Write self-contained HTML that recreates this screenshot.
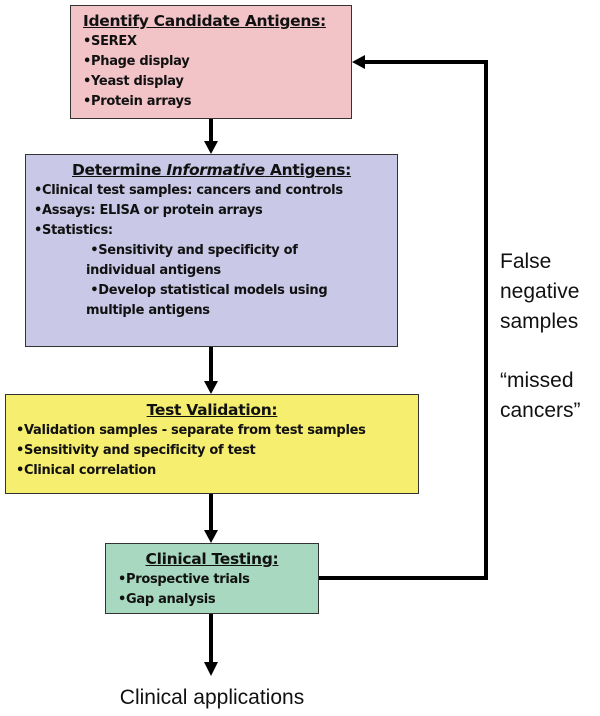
<!DOCTYPE html>
<html><head><style>
body{margin:0;width:600px;height:716px;background:#fff;position:relative;font-family:"DejaVu Sans","Liberation Sans",sans-serif;overflow:hidden}
.b{position:absolute;border:1.5px solid #333;box-sizing:border-box;font-weight:bold;font-size:13px;line-height:20px;color:#111;letter-spacing:-0.3px}
.t{font-size:15.5px;text-decoration:underline;line-height:22px}
.r{position:absolute;font-family:"Liberation Sans",sans-serif;font-size:21px;color:#111;line-height:30px}
</style></head><body>
<svg width="600" height="716" style="position:absolute;left:0;top:0">
<g stroke="#000" stroke-width="4" fill="none">
<line x1="211" y1="119" x2="211" y2="142"/>
<line x1="211" y1="347" x2="211" y2="382"/>
<line x1="211" y1="494" x2="211" y2="531"/>
<line x1="211" y1="614" x2="211" y2="663"/>
<polyline points="319,578 486,578 486,62 364,62"/>
</g>
<g fill="#000">
<polygon points="204,141 218,141 211,154"/>
<polygon points="204,381 218,381 211,394"/>
<polygon points="204,530 218,530 211,543"/>
<polygon points="204,662 218,662 211,676"/>
<polygon points="365,55 365,69 352,62"/>
</g>
</svg>
<div class="b" style="left:70px;top:5px;width:282px;height:114px;background:#f2c4c8;padding:4px 0 0 12px">
<div class="t">Identify Candidate Antigens:</div>
•SEREX<br>•Phage display<br>•Yeast display<br>•Protein arrays</div>
<div class="b" style="left:25px;top:154px;width:373px;height:193px;background:#c9c8e6;padding:4px 0 0 8px">
<div class="t" style="text-align:center;padding-right:8px">Determine <i>Informative</i> Antigens:</div>
•Clinical test samples: cancers and controls<br>•Assays: ELISA or protein arrays<br>•Statistics:
<div style="padding-left:52px">&nbsp;•Sensitivity and specificity of<br>individual antigens<br>&nbsp;•Develop statistical models using<br>multiple antigens</div></div>
<div class="b" style="left:5px;top:394px;width:414px;height:100px;background:#f6ee6e;padding:4px 0 0 10px">
<div class="t" style="text-align:center;padding-right:10px">Test Validation:</div>
•Validation samples - separate from test samples<br>•Sensitivity and specificity of test<br>•Clinical correlation</div>
<div class="b" style="left:105px;top:543px;width:214px;height:71px;background:#a8d8bf;padding:4px 0 0 12px">
<div class="t" style="text-align:center;padding-right:12px">Clinical Testing:</div>
•Prospective trials<br>•Gap analysis</div>
<div class="r" style="left:500px;top:247px">False<br>negative<br>samples</div>
<div class="r" style="left:500px;top:366px">“missed<br>cancers”</div>
<div class="r" style="left:105px;top:683px;width:214px;text-align:center">Clinical applications</div>
</body></html>
